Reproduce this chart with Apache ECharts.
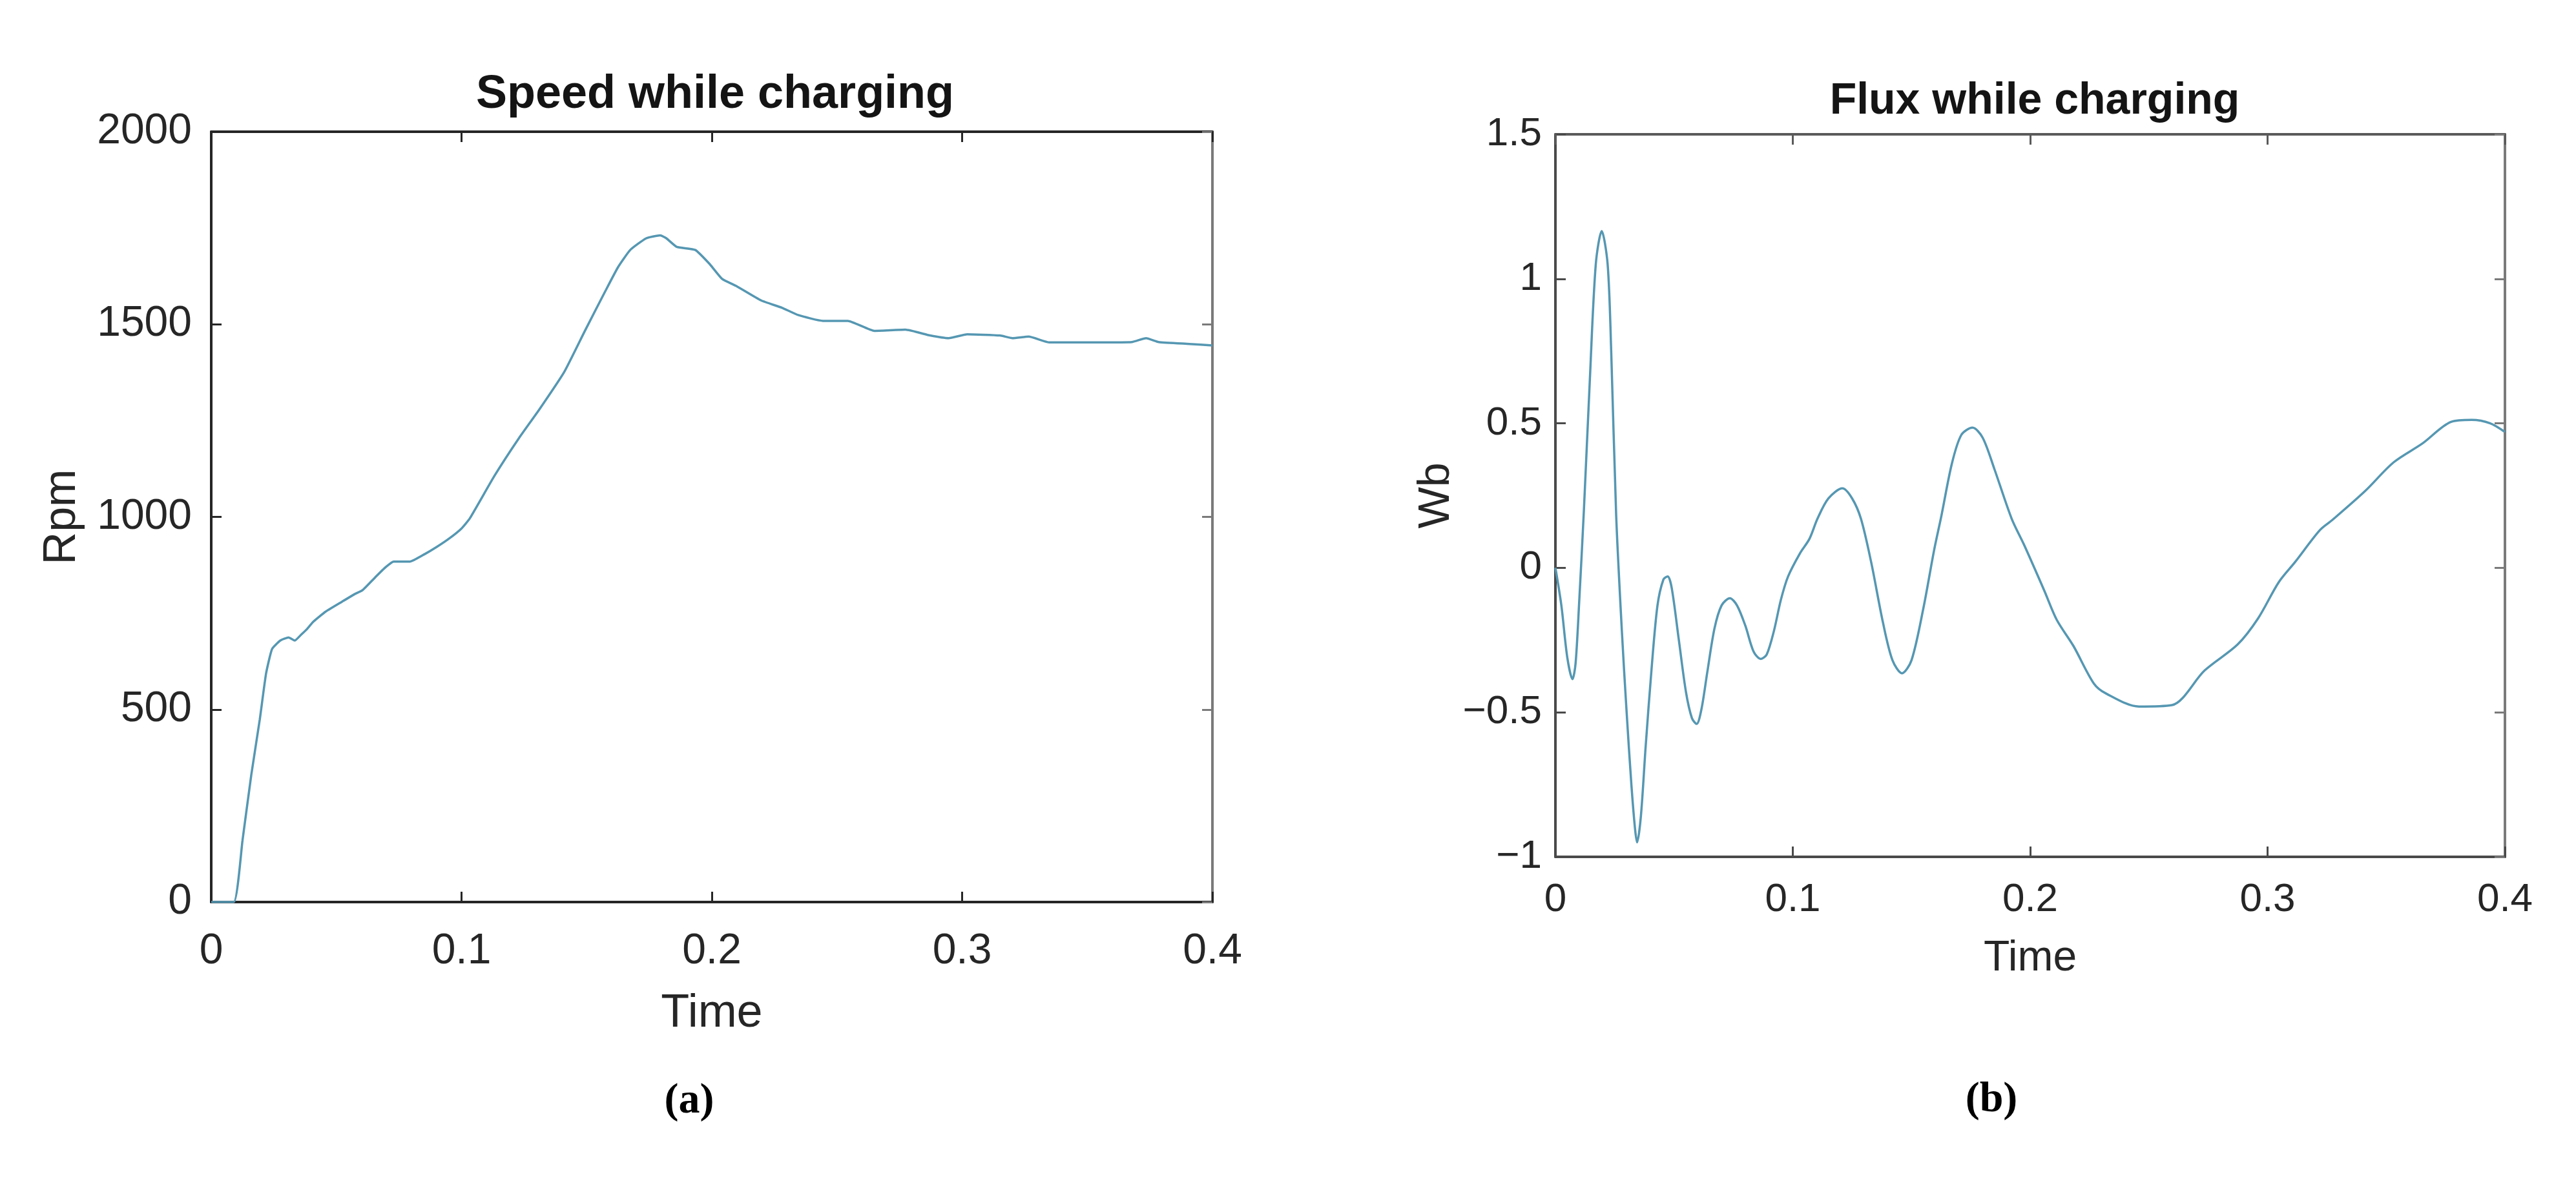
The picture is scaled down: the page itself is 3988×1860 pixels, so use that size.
<!DOCTYPE html>
<html>
<head>
<meta charset="utf-8">
<title>Speed and flux while charging</title>
<script src="https://cdn.jsdelivr.net/npm/echarts@6/dist/echarts.min.js"></script>
<style>
  html, body { margin: 0; padding: 0; background: #fff; }
  #chart { width: 3988px; height: 1860px; }
</style>
</head>
<body>
<div id="chart"></div>
<script>
// (a) speed while charging
var speedTime = [0, 0.009, 0.0125, 0.016, 0.0194, 0.0219, 0.0243, 0.0276, 0.0309, 0.0334,
  0.0359, 0.0383, 0.0408, 0.0457, 0.0523, 0.0572, 0.0605, 0.0655, 0.0696, 0.0729,
  0.0794, 0.0852, 0.0901, 0.0951, 0.1, 0.1033, 0.1132, 0.123, 0.1312, 0.1411,
  0.1493, 0.1576, 0.1625, 0.1674, 0.1737, 0.1794, 0.1819, 0.186, 0.1934, 0.1992,
  0.2041, 0.2099, 0.2197, 0.228, 0.2345, 0.2444, 0.2543, 0.265, 0.2773, 0.2872,
  0.2946, 0.302, 0.3151, 0.3201, 0.3266, 0.3349, 0.3546, 0.3678, 0.3735, 0.3785,
  0.3908, 0.4];
var speedRpm = [0, 0, 160, 330, 474, 593, 657, 679, 687, 679,
  694, 709, 728, 754, 780, 799, 810, 843, 869, 884,
  884, 903, 922, 944, 970, 996, 1107, 1205, 1280, 1377,
  1483, 1588, 1648, 1693, 1723, 1731, 1723, 1701, 1693, 1656,
  1618, 1599, 1562, 1543, 1524, 1509, 1509, 1483, 1486, 1471,
  1464, 1474, 1471, 1464, 1468, 1453, 1453, 1454, 1464, 1454,
  1449, 1445];

// (b) flux while charging
var fluxTime = [0, 0.0025, 0.005, 0.0072, 0.0085, 0.01, 0.012, 0.0145, 0.017, 0.0195,
  0.022, 0.0235, 0.0256, 0.028, 0.03, 0.032, 0.0335, 0.0344, 0.036, 0.038,
  0.0405, 0.043, 0.0455, 0.0473, 0.049, 0.052, 0.055, 0.0575, 0.0595, 0.0615,
  0.064, 0.067, 0.07, 0.0735, 0.0765, 0.08, 0.0835, 0.0865, 0.089, 0.092,
  0.095, 0.098, 0.103, 0.107, 0.1104, 0.1150, 0.1209, 0.1250, 0.1287, 0.133,
  0.138, 0.142, 0.146, 0.150, 0.155, 0.1595, 0.1626, 0.167, 0.171, 0.1757,
  0.180, 0.185, 0.1922, 0.1974, 0.206, 0.2112, 0.2182, 0.2268, 0.232, 0.2458,
  0.2597, 0.2735, 0.2874, 0.296, 0.3047, 0.3116, 0.322, 0.3272, 0.341, 0.3531,
  0.3652, 0.3773, 0.386, 0.3938, 0.4];
var fluxWb = [0, -0.13, -0.31, -0.385, -0.33, -0.12, 0.2, 0.65, 1.05, 1.165,
  1.05, 0.75, 0.18, -0.22, -0.5, -0.75, -0.9, -0.95, -0.86, -0.62,
  -0.35, -0.13, -0.04, -0.03, -0.07, -0.25, -0.43, -0.52, -0.54, -0.49,
  -0.36, -0.21, -0.13, -0.105, -0.13, -0.2, -0.29, -0.315, -0.3, -0.22,
  -0.11, -0.03, 0.05, 0.1, 0.17, 0.24, 0.275, 0.24, 0.17, 0.02,
  -0.19, -0.32, -0.365, -0.32, -0.14, 0.06, 0.18, 0.36, 0.46, 0.485,
  0.45, 0.34, 0.17, 0.08, -0.08, -0.18, -0.27, -0.4, -0.435, -0.48,
  -0.475, -0.355, -0.265, -0.175, -0.05, 0.02, 0.13, 0.165, 0.265, 0.365,
  0.43, 0.505, 0.512, 0.5, 0.47];

var timeTicks = [0, 0.1, 0.2, 0.3, 0.4];
var speedTicks = [0, 500, 1000, 1500, 2000];
var fluxTicks = [-1, -0.5, 0, 0.5, 1, 1.5];

var font = 'Liberation Sans, Arial, Helvetica, sans-serif';
var serif = 'Liberation Serif, Times New Roman, serif';
var lineColor = '#5597b2';

function pairs(xs, ys) {
  var out = [];
  for (var i = 0; i < xs.length; i++) out.push([xs[i], ys[i]]);
  return out;
}

function minus(v) {
  return String(v).replace('-', '\u2212');
}

// one MATLAB-like box: main axis with labels + mirrored axis with ticks only
function boxAxis(grid, pos, ticks, cfg) {
  var main = pos === 'bottom' || pos === 'left';
  return {
    type: 'value',
    gridIndex: grid,
    position: pos,
    min: ticks[0],
    max: ticks[ticks.length - 1],
    interval: ticks[1] - ticks[0],
    axisLine: { show: true, onZero: false, lineStyle: { color: cfg.lineColor, width: 4 } },
    axisTick: { show: true, inside: true, length: 16, lineStyle: { color: cfg.lineColor, width: 3 } },
    axisLabel: {
      show: main,
      margin: cfg.margin,
      fontSize: cfg.fontSize,
      fontFamily: font,
      color: '#262626',
      formatter: minus
    },
    splitLine: { show: false },
    name: main ? cfg.name : '',
    nameLocation: 'middle',
    nameGap: cfg.nameGap,
    nameRotate: (pos === 'left') ? 90 : 0,
    nameTextStyle: { fontSize: cfg.nameSize, fontFamily: font, color: '#262626' }
  };
}

function caption(letter, x, y) {
  return {
    text: '{p|(}{b|' + letter + '}{p|)}', left: x, top: y, textAlign: 'center',
    textStyle: {
      rich: {
        p: { fontSize: 66, fontFamily: serif, color: '#000' },
        b: { fontSize: 66, fontWeight: 'bold', fontFamily: serif, color: '#000' }
      }
    }
  };
}

var myChart = echarts.init(document.getElementById('chart'), null, { renderer: 'canvas' });

var option = {
  backgroundColor: '#ffffff',
  animation: false,
  title: [
    {
      text: 'Speed while charging', left: 1102, top: 106, textAlign: 'center',
      textStyle: { fontSize: 72, fontWeight: 'bold', fontFamily: font, color: '#141414' }
    },
    {
      text: 'Flux while charging', left: 3145, top: 118, textAlign: 'center',
      textStyle: { fontSize: 68, fontWeight: 'bold', fontFamily: font, color: '#141414' }
    },
    caption('a', 1062, 1668),
    caption('b', 3078, 1666)
  ],
  grid: [
    { left: 327, top: 204, width: 1550, height: 1193, containLabel: false },
    { left: 2408, top: 208, width: 1470, height: 1119, containLabel: false }
  ],
  xAxis: [
    boxAxis(0, 'bottom', timeTicks, { lineColor: '#262626', margin: 44, fontSize: 66, name: 'Time', nameGap: 137, nameSize: 72 }),
    boxAxis(0, 'top', timeTicks, { lineColor: '#262626' }),
    boxAxis(1, 'bottom', timeTicks, { lineColor: '#4a4a4a', margin: 36, fontSize: 62, name: 'Time', nameGap: 125, nameSize: 66 }),
    boxAxis(1, 'top', timeTicks, { lineColor: '#5a5a5a' })
  ],
  yAxis: [
    boxAxis(0, 'left', speedTicks, { lineColor: '#262626', margin: 30, fontSize: 66, name: 'Rpm', nameGap: 195, nameSize: 70 }),
    boxAxis(0, 'right', speedTicks, { lineColor: '#7a7a7a' }),
    boxAxis(1, 'left', fluxTicks, { lineColor: '#4a4a4a', margin: 21, fontSize: 62, name: 'Wb', nameGap: 150, nameSize: 68 }),
    boxAxis(1, 'right', fluxTicks, { lineColor: '#7a7a7a' })
  ],
  series: [
    {
      name: 'Speed',
      type: 'line',
      xAxisIndex: 0,
      yAxisIndex: 0,
      data: pairs(speedTime, speedRpm),
      showSymbol: false,
      smooth: 0.15,
      lineStyle: { color: lineColor, width: 3.5 }
    },
    {
      name: 'Flux',
      type: 'line',
      xAxisIndex: 2,
      yAxisIndex: 2,
      data: pairs(fluxTime, fluxWb),
      showSymbol: false,
      smooth: 0.3,
      lineStyle: { color: lineColor, width: 3.5 }
    }
  ]
};

myChart.setOption(option);
window.addEventListener('resize', function () {
  myChart.resize();
});
</script>
</body>
</html>
